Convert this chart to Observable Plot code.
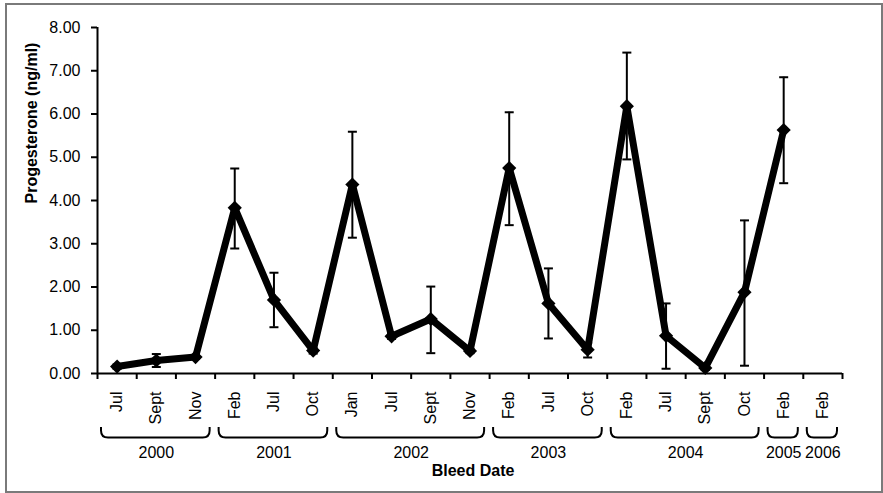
<!DOCTYPE html>
<html><head><meta charset="utf-8">
<script src="https://cdn.jsdelivr.net/npm/d3@7"></script>
<script src="https://cdn.jsdelivr.net/npm/@observablehq/plot@0.6"></script>
<style>
body{margin:0;background:#fff;}
#wrap{position:relative;width:883px;height:493px;}
#border{position:absolute;left:5px;top:3px;width:874px;height:486px;border:2px solid #7a7a7a;pointer-events:none;}
</style>
</head><body><div id="wrap"><div id="border"></div></div>
<script>
// Bleed-date categories
const months = ["Jul","Sept","Nov","Feb","Jul","Oct","Jan","Jul","Sept","Nov","Feb","Jul","Oct","Feb","Jul","Sept","Oct","Feb","Feb"];
const years  = ["2000","2000","2000","2001","2001","2001","2002","2002","2002","2002","2003","2003","2003","2004","2004","2004","2004","2005","2006"];
// Mean progesterone (ng/ml) and error-bar ends
const means  = [0.16,0.30,0.38,3.83,1.70,0.53,4.37,0.86,1.26,0.52,4.75,1.62,0.55,6.18,0.87,0.13,1.88,5.63,null];
const errLow = [0.11,0.15,0.34,2.89,1.07,0.46,3.14,0.80,0.47,0.47,3.43,0.81,0.37,4.95,0.11,0.08,0.18,4.40,null];
const errHigh= [0.21,0.45,0.42,4.74,2.33,0.58,5.59,0.92,2.01,0.57,6.04,2.43,0.71,7.42,1.62,0.18,3.54,6.85,null];
const yTicks = [0,1,2,3,4,5,6,7,8];

const rows = months.map((m,i)=>({i, xc:i+0.5, month:m, year:years[i], mean:means[i], lo:errLow[i], hi:errHigh[i]}));
const valid = rows.filter(d=>d.mean!=null);

// year groups
const groups = [];
years.forEach((y,i)=>{
  const g = groups[groups.length-1];
  if (g && g.year===y) g.end=i+1; else groups.push({year:y,start:i,end:i+1});
});
groups.forEach(g=>g.mid=(g.start+g.end)/2);

const capSymbol = {draw(ctx){ctx.moveTo(-4.5,0);ctx.lineTo(4.5,0);}};

function braceMark(index, scales, values, dim) {
  const g = d3.create("svg:g").attr("fill","none").attr("stroke","black").attr("stroke-width",2);
  const base = dim.height - dim.marginBottom;
  const top = base + 54, bot = base + 64.5, r = 7;
  for (const gr of groups) {
    const x1 = scales.x(gr.start) + 4, x2 = scales.x(gr.end) - 5;
    g.append("path").attr("d",
      `M${x1},${top}V${bot-r}Q${x1},${bot} ${x1+r},${bot}H${x2-r}Q${x2},${bot} ${x2},${bot-r}V${top}`);
  }
  return g.node();
}

const FS = 16;
const chart = Plot.plot({
  width: 883, height: 493,
  marginLeft: 97, marginRight: 41, marginTop: 27, marginBottom: 120,
  style: {fontFamily: "'Liberation Sans', Arial, sans-serif", fontSize: FS + "px", color: "black", background: "transparent", overflow: "visible"},
  x: {domain: [0, months.length]},
  y: {domain: [0, 8]},
  marks: [
    Plot.axisY(yTicks, {tickSize: 6, tickPadding: 11, tickFormat: d => d.toFixed(2), label: null, fontSize: FS, strokeWidth: 2}),
    Plot.axisX(d3.range(months.length+1), {tickSize: 6, tickFormat: () => "", label: null, strokeWidth: 2}),
    Plot.ruleX([0], {strokeWidth: 2}),
    Plot.ruleY([0], {strokeWidth: 2}),
    Plot.ruleX(valid, {x: "xc", y1: "lo", y2: "hi", strokeWidth: 2}),
    Plot.dot(valid, {x: "xc", y: "lo", symbol: capSymbol, stroke: "black", strokeWidth: 2, r: 4}),
    Plot.dot(valid, {x: "xc", y: "hi", symbol: capSymbol, stroke: "black", strokeWidth: 2, r: 4}),
    Plot.line(valid, {x: "xc", y: "mean", stroke: "black", strokeWidth: 7}),
    Plot.dot(valid, {x: "xc", y: "mean", symbol: "diamond2", fill: "black", stroke: "none", r: 6.4}),
    Plot.text(rows, {x: "xc", text: "month", frameAnchor: "bottom", rotate: -90, textAnchor: "end", lineAnchor: "middle", dy: 18, fontSize: FS}),
    Plot.text(groups, {x: "mid", text: "year", frameAnchor: "bottom", lineAnchor: "middle", dy: 79, fontSize: FS}),
    braceMark,
    Plot.text(["Bleed Date"], {frameAnchor: "bottom", lineAnchor: "middle", dy: 97, dx: 3, fontWeight: "bold", fontSize: FS}),
    Plot.text(["Progesterone (ng/ml)"], {frameAnchor: "left", rotate: -90, lineAnchor: "middle", dx: -66, dy: 3, fontWeight: "bold", fontSize: FS})
  ]
});
document.getElementById("wrap").prepend(chart);
</script>
</body></html>
